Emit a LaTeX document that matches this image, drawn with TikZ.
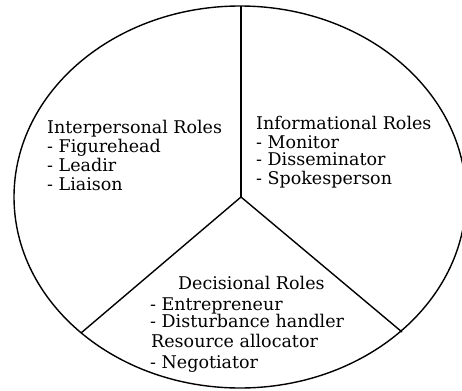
\documentclass[tikz,border=0pt]{standalone}
\usepackage{fontspec}
\setmainfont{DejaVu Serif}
\begin{document}
\begin{tikzpicture}[x=1pt,y=-1pt,
  outline/.style={line width=1.4pt,black},
  rolehead/.style={anchor=base west,inner sep=0pt,font=\fontsize{17.5}{20}\selectfont},
  roleitem/.style={anchor=base west,inner sep=0pt,font=\fontsize{17.5}{20}\selectfont}]
  \useasboundingbox (0,0) rectangle (462,390);
  \clip (0,0) rectangle (462,390);
  % outer ellipse and the three dividing spokes
  \draw[outline] (240,197) ellipse [x radius=226pt, y radius=191pt];
  \coordinate (hub) at (241,197);
  \coordinate (top) at (241,6);
  \coordinate (lowleft) at (81,333);
  \coordinate (lowright) at (402,332);
  \draw[outline] (hub) -- (top);
  \draw[outline] (hub) -- (lowleft);
  \draw[outline] (hub) -- (lowright);
  % interpersonal sector
  \node[rolehead] (ip)  at (47,134) {Interpersonal Roles};
  \node[roleitem] (ip1) at (47,153) {- Figurehead};
  \node[roleitem] (ip2) at (47,171) {- Leadir};
  \node[roleitem] (ip3) at (47,190) {- Liaison};
  % informational sector
  \node[rolehead] (inf)  at (256,130) {Informational Roles};
  \node[roleitem] (inf1) at (256,148) {- Monitor};
  \node[roleitem] (inf2) at (256,165) {- Disseminator};
  \node[roleitem] (inf3) at (256,184) {- Spokesperson};
  % decisional sector
  \node[rolehead] (dec)  at (178,289) {Decisional Roles};
  \node[roleitem] (dec1) at (150,310) {- Entrepreneur};
  \node[roleitem] (dec2) at (150,327) {- Disturbance handler};
  \node[roleitem] (dec3) at (151,347) {Resource allocator};
  \node[roleitem] (dec4) at (150,368) {- Negotiator};
\end{tikzpicture}
\end{document}
